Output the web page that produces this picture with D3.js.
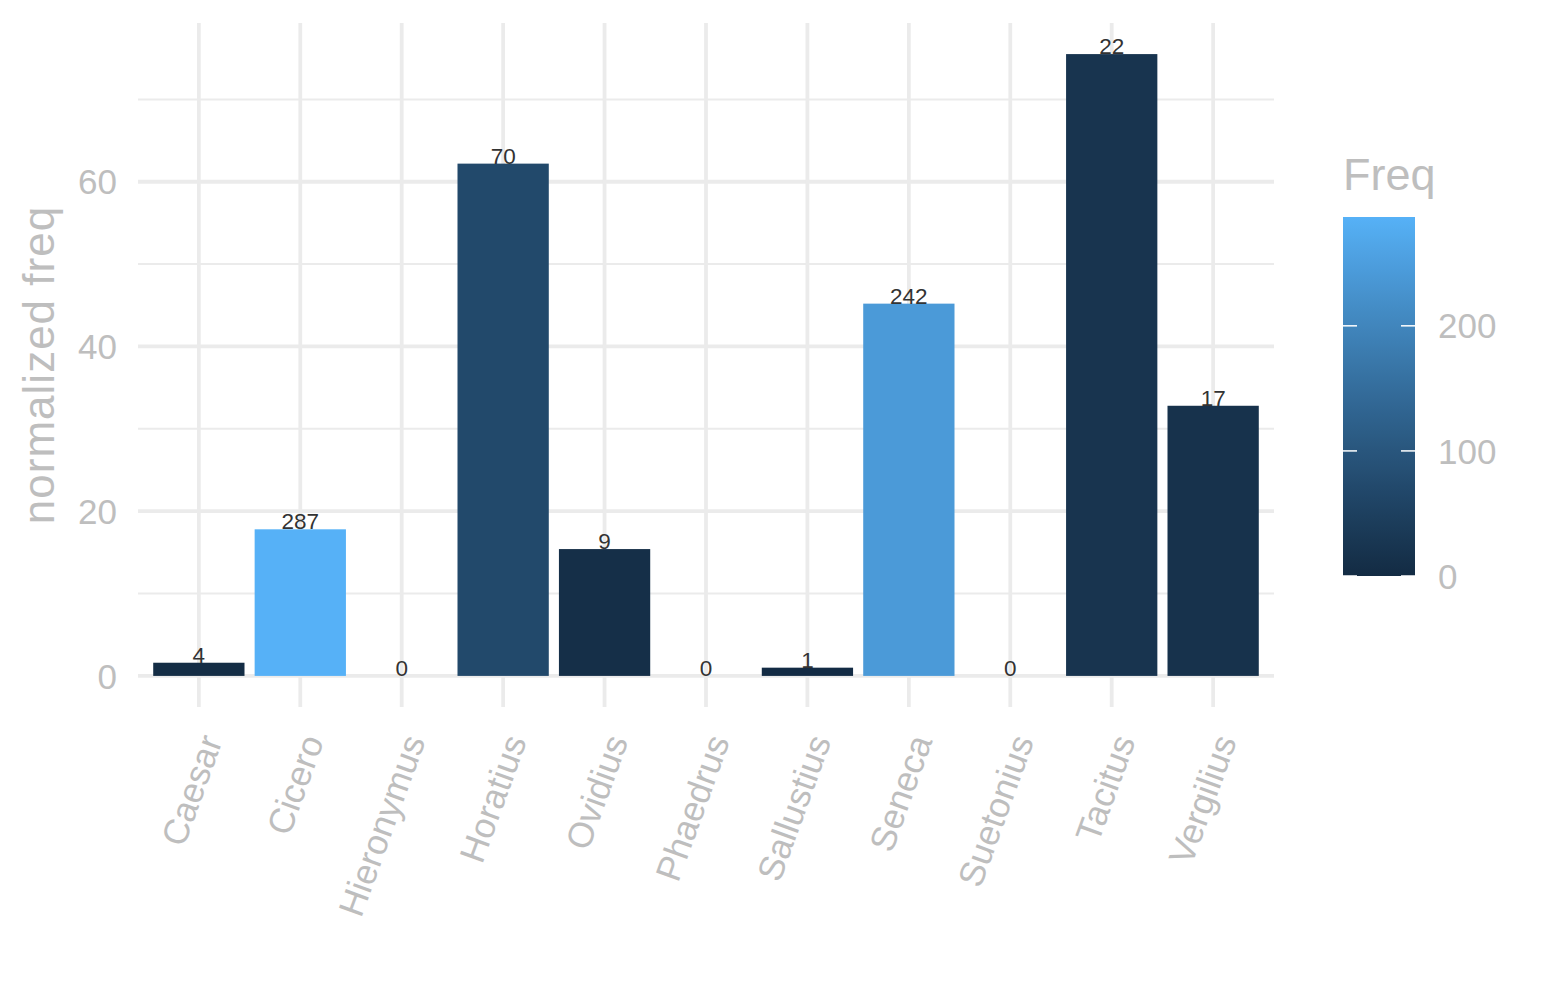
<!DOCTYPE html>
<html><head><meta charset="utf-8">
<script src="https://cdn.jsdelivr.net/npm/d3@7"></script>
<style>body{margin:0;background:#fff}svg{display:block}text{font-family:"Liberation Sans",Arial,Helvetica,sans-serif}</style>
</head><body><svg id="c" width="1545" height="1000"></svg>
<script>
const authors = ["Caesar","Cicero","Hieronymus","Horatius","Ovidius","Phaedrus","Sallustius","Seneca","Suetonius","Tacitus","Vergilius"];
const normFreq = [1.6, 17.8, 0, 62.2, 15.4, 0, 1.0, 45.2, 0, 75.5, 32.8];
const freq = [4, 287, 0, 70, 9, 0, 1, 242, 0, 22, 17];
const yTicks = [0, 20, 40, 60];
const yMinor = [10, 30, 50, 70];
const legendTicks = [0, 100, 200];

const svg = d3.select("#c");
const L = 138, R = 1274, T = 23, B = 707;
const grid = "#EBEBEB", axisCol = "#BEBEBE";

const step = (R - L) / (authors.length - 1 + 1.2);
const xc = d3.scalePoint().domain(authors).range([L + 0.6 * step, R - 0.6 * step]);
const bw = step * 0.9;

const dmax = d3.max(normFreq);
const y = d3.scaleLinear().domain([-0.05 * dmax, dmax * 1.05]).range([B, T]);

const color = d3.scaleLinear().domain([0, d3.max(freq)]).range(["#132B43", "#56B1F7"]).interpolate(d3.interpolateLab);

// gridlines
svg.append("g").selectAll("line").data(yMinor).join("line")
  .attr("x1", L).attr("x2", R).attr("y1", d => y(d)).attr("y2", d => y(d))
  .attr("stroke", grid).attr("stroke-width", 2);
svg.append("g").selectAll("line").data(yTicks).join("line")
  .attr("x1", L).attr("x2", R).attr("y1", d => y(d)).attr("y2", d => y(d))
  .attr("stroke", grid).attr("stroke-width", 3.8);
svg.append("g").selectAll("line").data(authors).join("line")
  .attr("x1", d => xc(d)).attr("x2", d => xc(d)).attr("y1", T).attr("y2", B)
  .attr("stroke", grid).attr("stroke-width", 3.8);

// bars
svg.append("g").selectAll("rect").data(authors).join("rect")
  .attr("x", d => xc(d) - bw / 2).attr("width", bw)
  .attr("y", (d, i) => y(normFreq[i])).attr("height", (d, i) => y(0) - y(normFreq[i]))
  .attr("fill", (d, i) => color(freq[i]));

// bar labels
svg.append("g").selectAll("text").data(authors).join("text")
  .attr("x", d => xc(d)).attr("y", (d, i) => y(normFreq[i]))
  .attr("text-anchor", "middle").attr("font-size", 22.5).attr("fill", "#333")
  .text((d, i) => freq[i]);

// y axis labels
svg.append("g").selectAll("text").data(yTicks).join("text")
  .attr("x", 117).attr("y", d => y(d)).attr("dy", "0.36em")
  .attr("text-anchor", "end").attr("font-size", 35).attr("fill", axisCol)
  .text(d => d);

// x axis labels
svg.append("g").selectAll("text").data(authors).join("text")
  .attr("transform", d => `translate(${xc(d)},732) rotate(-70)`)
  .attr("dy", "0.72em").attr("text-anchor", "end").attr("font-size", 35.5).attr("fill", axisCol)
  .text(d => d);

// y title
svg.append("text").attr("transform", `translate(54,${(T + B) / 2}) rotate(-90)`)
  .attr("text-anchor", "middle").attr("font-size", 44).attr("letter-spacing", 1).attr("fill", axisCol)
  .text("normalized freq");

// legend
const lx = 1343, lw = 72, lt = 217, lb = 576;
const ly = d3.scaleLinear().domain([0, d3.max(freq)]).range([lb, lt]);
svg.append("text").attr("x", lx).attr("y", 190).attr("font-size", 45).attr("fill", axisCol).text("Freq");
const defs = svg.append("defs");
const grad = defs.append("linearGradient").attr("id", "lg").attr("x1", 0).attr("y1", 1).attr("x2", 0).attr("y2", 0);
d3.range(0, 1.0001, 0.05).forEach(t => {
  grad.append("stop").attr("offset", t).attr("stop-color", color(t * d3.max(freq)));
});
svg.append("rect").attr("x", lx).attr("y", lt).attr("width", lw).attr("height", lb - lt).attr("fill", "url(#lg)");
const lg = svg.append("g");
legendTicks.forEach(v => {
  lg.append("line").attr("x1", lx).attr("x2", lx + 14).attr("y1", ly(v)).attr("y2", ly(v)).attr("stroke", "#fff").attr("stroke-width", 1.5);
  lg.append("line").attr("x1", lx + lw - 14).attr("x2", lx + lw).attr("y1", ly(v)).attr("y2", ly(v)).attr("stroke", "#fff").attr("stroke-width", 1.5);
  lg.append("text").attr("x", 1438).attr("y", ly(v)).attr("dy", "0.36em").attr("font-size", 35).attr("fill", axisCol).text(v);
});
</script></body></html>
